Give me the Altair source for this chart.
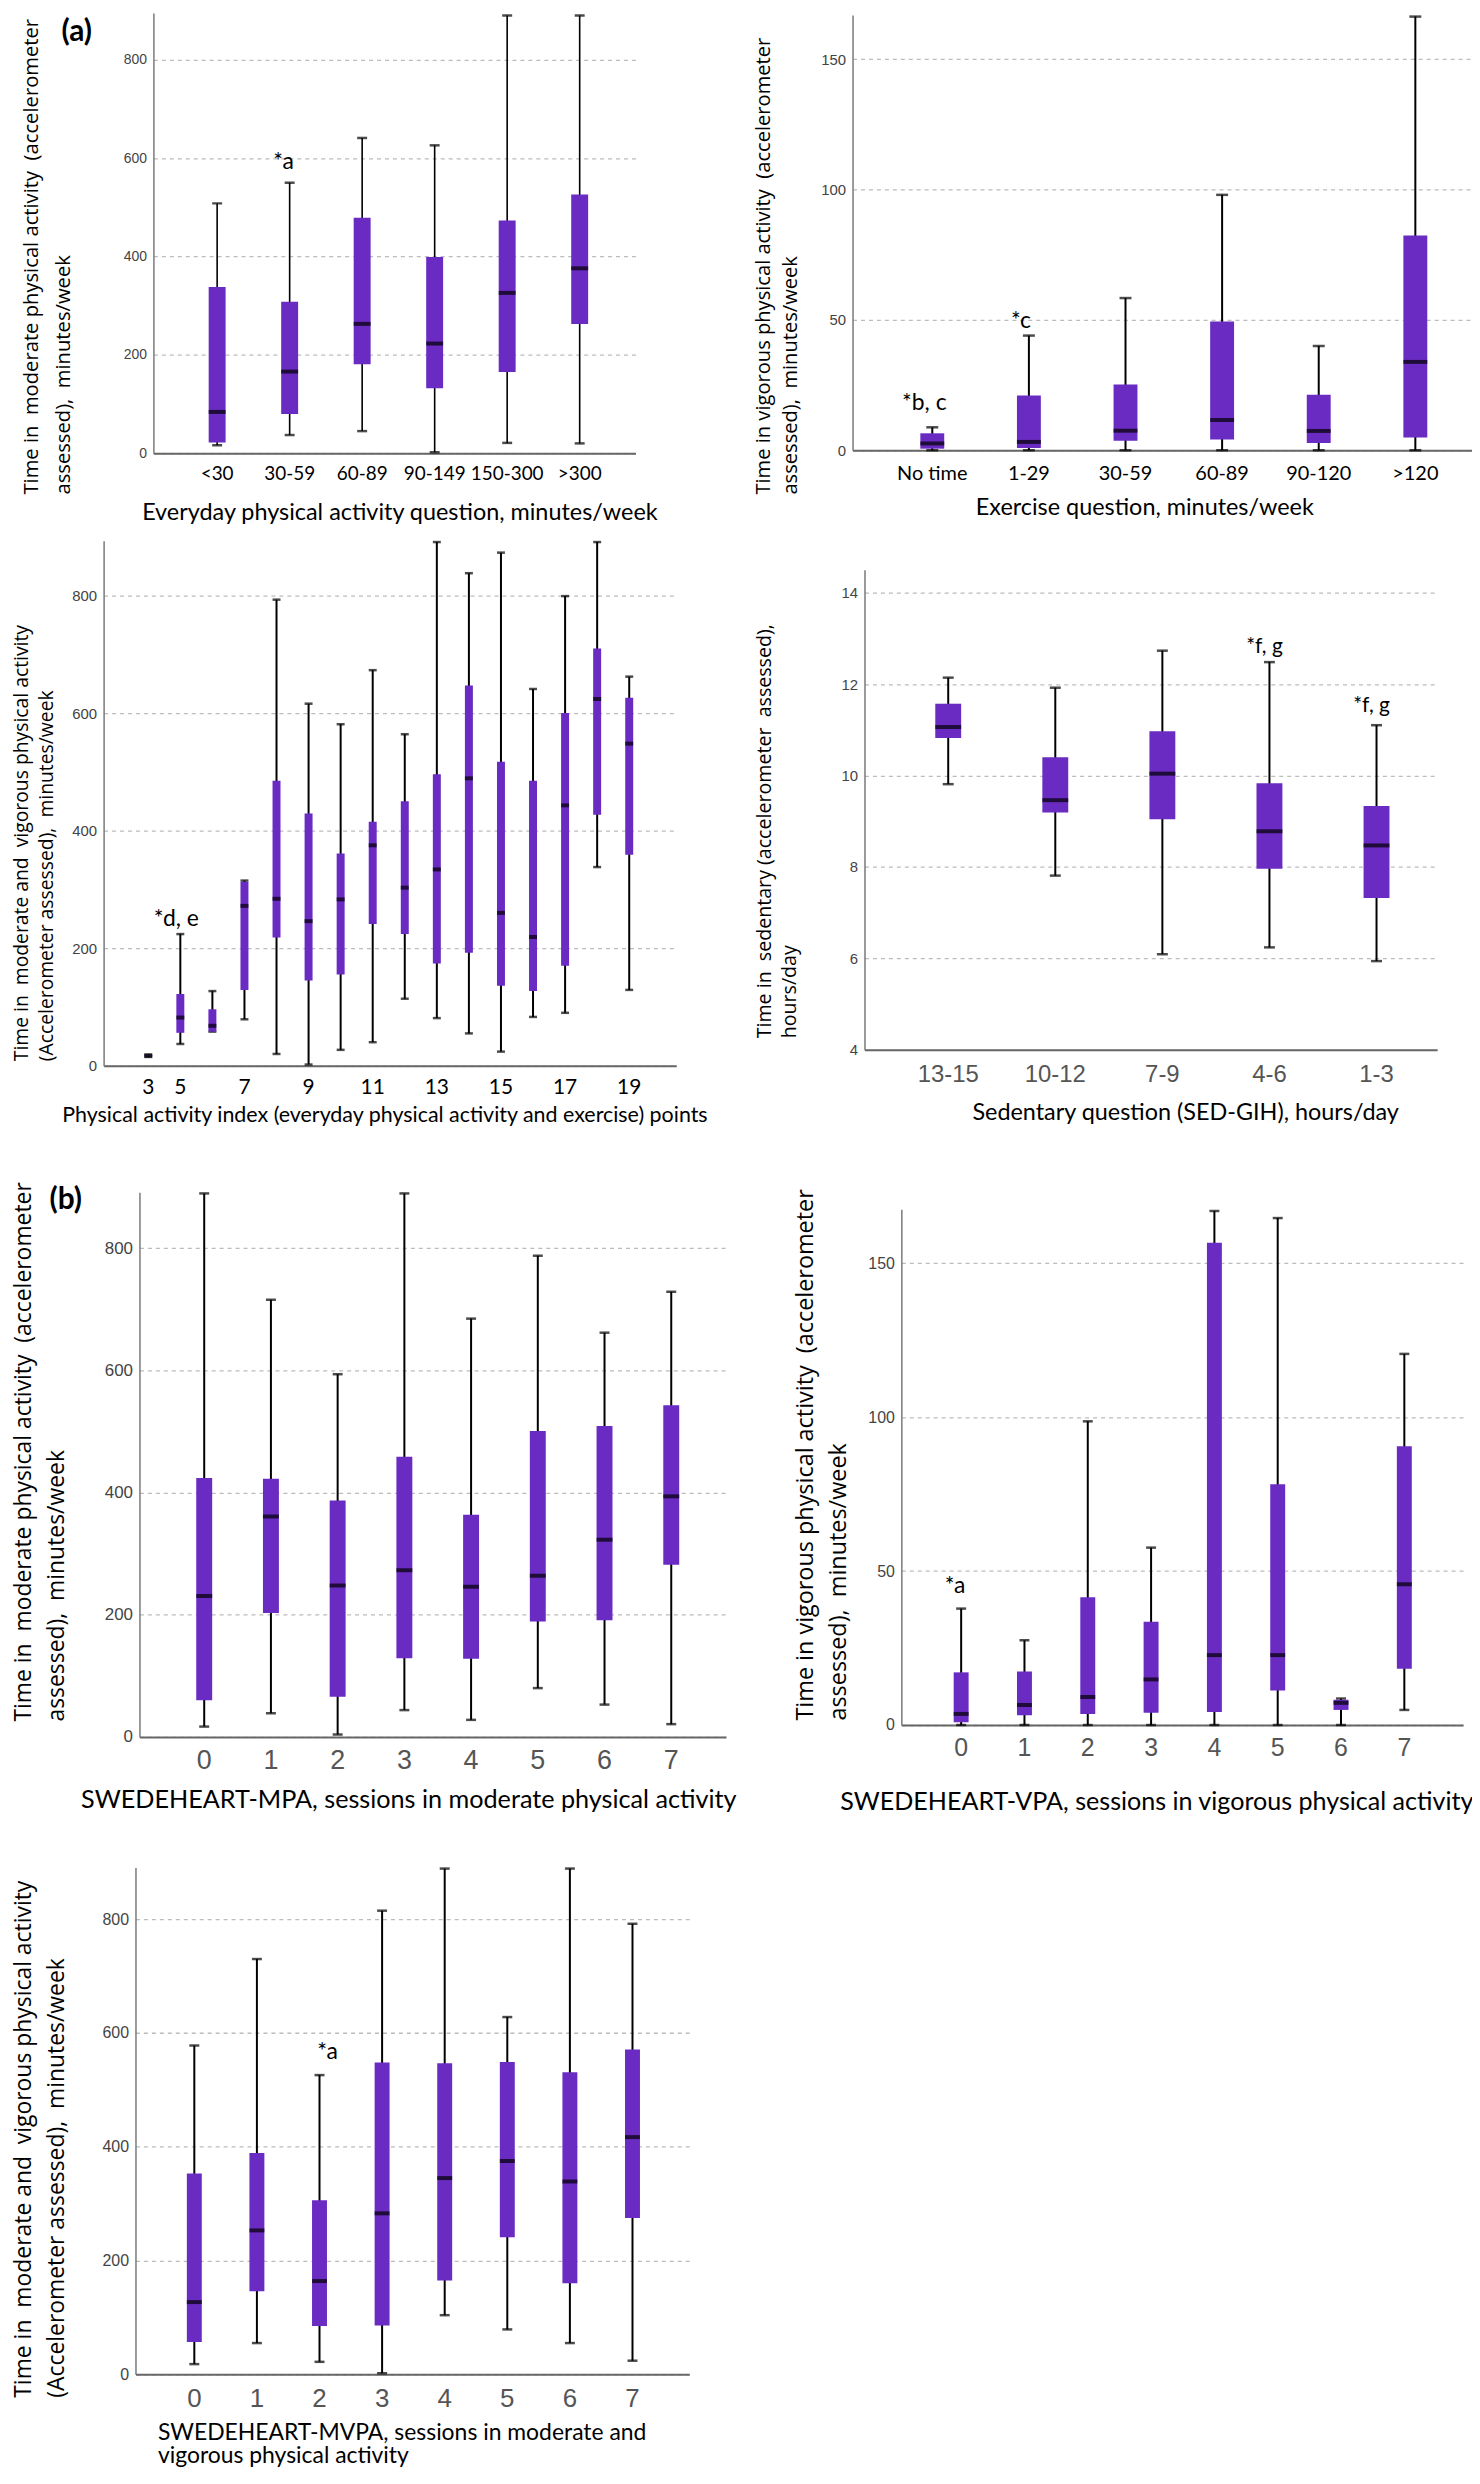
import altair as alt
import pandas as pd

PURPLE = "#6a2bc3"
SP = "\u00a0 "  # visible double space

# ---------------- (a) top-left: everyday physical activity vs MPA
cats1 = ["<30", "30-59", "60-89", "90-149", "150-300", ">300"]
lo1 = [16, 37, 45, 2, 21, 20]
q1_1 = [22, 80, 181, 132, 165, 263]
med1 = [84, 166, 263, 223, 326, 376]
q3_1 = [338, 308, 479, 399, 473, 526]
hi1 = [508, 550, 641, 626, 890, 890]
ann1_cat = ["30-59"]
ann1_val = [592]
ann1_txt = ["*a"]

# ---------------- top-right: exercise question vs VPA
cats2 = ["No time", "1-29", "30-59", "60-89", "90-120", ">120"]
lo2 = [0, 0, 0, 0, 0, 0]
q1_2 = [0.6, 0.9, 3.6, 4.1, 2.8, 4.9]
med2 = [2.6, 3.2, 7.5, 11.6, 7.4, 33.9]
q3_2 = [6.5, 21, 25.2, 49.4, 21.3, 82.4]
hi2 = [8.8, 44, 58.4, 98, 40, 166.4]
ann2_cat = ["No time", "1-29"]
ann2_val = [18, 49.5]
ann2_txt = ["*b, c", "*c"]

# ---------------- middle-left: physical activity index vs MVPA
cats3 = ["3", "5", "6", "7", "8", "9", "10", "11", "12", "13", "14", "15", "16", "17", "18", "19"]
lo3 = [15, 37, 58, 79, 20, 2, 27, 40, 114, 81, 55, 24, 83, 90, 338, 129]
q1_3 = [16, 56, 58, 129, 218, 145, 155, 241, 224, 174, 192, 136, 127, 170, 427, 359]
med3 = [17, 82, 68, 272, 284, 246, 283, 375, 303, 334, 489, 260, 219, 443, 624, 548]
q3_3 = [18, 122, 96, 313, 485, 429, 361, 415, 450, 496, 647, 517, 485, 600, 710, 626]
hi3 = [19, 224, 127, 315, 793, 616, 581, 673, 564, 891, 838, 873, 641, 799, 891, 662]
labels3 = ["3", "5", "7", "9", "11", "13", "15", "17", "19"]
ann3_cat = ["5"]
ann3_val = [250]
ann3_txt = ["*d, e"]

# ---------------- middle-right: sedentary question vs sedentary time
cats4 = ["13-15", "10-12", "7-9", "4-6", "1-3"]
lo4 = [9.81, 7.81, 6.09, 6.24, 5.94]
q1_4 = [10.82, 9.19, 9.04, 7.96, 7.32]
med4 = [11.06, 9.46, 10.04, 8.78, 8.47]
q3_4 = [11.57, 10.40, 10.97, 9.83, 9.33]
hi4 = [12.14, 11.92, 12.73, 12.48, 11.10]
ann4_cat = ["4-6", "1-3"]
ann4_val = [12.8, 11.52]
ann4_txt = ["*f, g", "*f, g"]

# ---------------- (b) SWEDEHEART-MPA
cats5 = ["0", "1", "2", "3", "4", "5", "6", "7"]
lo5 = [17, 39, 4, 44, 28, 80, 53, 21]
q1_5 = [60, 203, 66, 129, 128, 189, 191, 282]
med5 = [231, 361, 248, 273, 246, 264, 323, 394]
q3_5 = [424, 423, 387, 459, 364, 501, 509, 543]
hi5 = [890, 716, 594, 890, 685, 788, 662, 729]

# ---------------- SWEDEHEART-VPA
cats6 = ["0", "1", "2", "3", "4", "5", "6", "7"]
lo6 = [0, 0, 0, 0, 0, 0, 0, 4.9]
q1_6 = [0.9, 3.2, 3.6, 4.0, 4.2, 11.2, 4.9, 18.3]
med6 = [3.6, 6.5, 9.1, 14.8, 22.7, 22.7, 7.2, 45.7]
q3_6 = [17.1, 17.4, 41.5, 33.5, 156.6, 78.2, 8.2, 90.5]
hi6 = [37.8, 27.5, 98.6, 57.6, 166.9, 164.6, 8.6, 120.5]
ann6_cat = ["0"]
ann6_val = [45]
ann6_txt = ["*a"]

# ---------------- SWEDEHEART-MVPA
cats7 = ["0", "1", "2", "3", "4", "5", "6", "7"]
lo7 = [18, 55, 22, 2, 104, 79, 55, 24]
q1_7 = [57, 146, 85, 86, 165, 241, 160, 275]
med7 = [127, 253, 164, 283, 345, 375, 339, 417]
q3_7 = [353, 389, 306, 548, 547, 549, 531, 571]
hi7 = [578, 730, 526, 815, 889, 628, 889, 792]
ann7_cat = ["2"]
ann7_val = [567]
ann7_txt = ["*a"]

BLACK_FONT = "Lato"
GRAY_FONT = "Liberation Sans"
YT_FONT = "Open Sans"


def spacer(w, h):
    return alt.Chart(pd.DataFrame({"s": [0]})).mark_point(opacity=0, size=0).encode(
        x=alt.value(0), y=alt.value(0)
    ).properties(width=w, height=h)


def panel(cats, lo, q1, med, q3, hi, *, w, h, ydom, yticks, po, align,
          box, cap, med_th=4, whisk=2,
          xlab_font, xlab_size, xlab_color, xlab_pad, xlab_values=None,
          ylab_size, ylab_color="#444",
          ytitle, yt_size, yt_lh, yt_x, yt_y,
          xtitle, xt_size, xt_x, xt_y, xt_align="center", xt_baseline="middle", xt_lh=None,
          ann=None, ann_dx=0, ann_dy=0, ann_size=23, label=None):
    df = pd.DataFrame({"cat": cats, "lo": lo, "q1": q1, "med": med, "q3": q3, "hi": hi})
    xscale = alt.Scale(type="band", domain=list(cats), paddingInner=0,
                       paddingOuter=po, align=align)
    xaxis_kw = dict(
        labelAngle=0, ticks=False, grid=False, domainColor="#666", domainWidth=2,
        labelFont=xlab_font, labelFontSize=xlab_size, labelColor=xlab_color,
        labelPadding=xlab_pad, labelOverlap=False,
        title=xtitle, titleFont=BLACK_FONT, titleFontSize=xt_size,
        titleFontWeight="normal", titleColor="black",
        titleX=xt_x, titleY=xt_y, titleAlign=xt_align, titleBaseline=xt_baseline,
    )
    if xt_lh is not None:
        xaxis_kw["titleLineHeight"] = xt_lh
    if xlab_values is not None:
        xaxis_kw["values"] = xlab_values
    xaxis = alt.Axis(**xaxis_kw)
    yscale = alt.Scale(domain=ydom, nice=False, zero=False)
    yaxis = alt.Axis(
        values=yticks, grid=True, gridDash=[4, 4], gridColor="#bcbcbc", gridWidth=1.3,
        domainColor="#7a7a7a", domainWidth=1.5, ticks=False, labelPadding=7,
        labelFont=GRAY_FONT, labelFontSize=ylab_size, labelColor=ylab_color,
        title=ytitle, titleFont=YT_FONT, titleFontSize=yt_size, titleFontWeight="normal",
        titleColor="black", titleAngle=270, titleAlign="left", titleBaseline="top",
        titleX=yt_x, titleY=yt_y, titleLineHeight=yt_lh,
    )
    xc = alt.X("cat:N", scale=xscale, axis=xaxis, bandPosition=0.5)
    xb = alt.X("cat:N", scale=xscale, axis=xaxis)
    base = alt.Chart(df)
    whisker = base.mark_rule(color="black", strokeWidth=whisk).encode(
        x=xc, y=alt.Y("lo:Q", scale=yscale, axis=yaxis), y2="hi:Q")
    cap_hi = base.mark_tick(color="black", size=cap, thickness=2.5).encode(
        x=xc, y=alt.Y("hi:Q", scale=yscale, axis=yaxis))
    cap_lo = base.mark_tick(color="black", size=cap, thickness=2.5).encode(
        x=xc, y=alt.Y("lo:Q", scale=yscale, axis=yaxis))
    boxes = base.mark_bar(color=PURPLE, size=box).encode(
        x=xb, y=alt.Y("q1:Q", scale=yscale, axis=yaxis), y2="q3:Q")
    medians = base.mark_tick(color="black", size=box, thickness=med_th).encode(
        x=xc, y=alt.Y("med:Q", scale=yscale, axis=yaxis))
    layers = [whisker, cap_hi, cap_lo, boxes, medians]
    if ann is not None:
        adf = pd.DataFrame({"cat": ann[0], "val": ann[1], "txt": ann[2]})
        layers.append(alt.Chart(adf).mark_text(
            font=BLACK_FONT, fontSize=ann_size, color="black", baseline="middle",
            dx=ann_dx, dy=ann_dy).encode(
            x=xc, y=alt.Y("val:Q", scale=yscale, axis=yaxis), text="txt:N"))
    if label is not None:
        ldf = pd.DataFrame({"t": [label[0]]})
        layers.append(alt.Chart(ldf).mark_text(
            font=BLACK_FONT, fontSize=30, fontWeight="bold", color="black",
            baseline="middle", align="center").encode(
            x=alt.value(label[1]), y=alt.value(label[2]), text="t:N"))
    return alt.layer(*layers).properties(width=w, height=h)


p1 = panel(cats1, lo1, q1_1, med1, q3_1, hi1, w=484, h=442, ydom=[0, 895],
           yticks=[0, 200, 400, 600, 800], po=0.324, align=0.585, box=17, cap=10, whisk=1.6,
           xlab_font=BLACK_FONT, xlab_size=19, xlab_color="black", xlab_pad=11,
           ylab_size=14,
           ytitle=["Time in" + SP + "moderate physical activity" + SP + "(accelerometer",
                   "assessed)," + SP + " minutes/week"],
           yt_size=20.3, yt_lh=32, yt_x=-132, yt_y=483,
           xtitle="Everyday physical activity question, minutes/week", xt_size=23.5, xt_x=247, xt_y=60,
           ann=(ann1_cat, ann1_val, ann1_txt), ann_dx=-6, label=("(a)", -77, 19))

p2 = panel(cats2, lo2, q1_2, med2, q3_2, hi2, w=622, h=437, ydom=[0, 167],
           yticks=[0, 50, 100, 150], po=0.206, align=0.79, box=24, cap=12,
           xlab_font=BLACK_FONT, xlab_size=20, xlab_color="black", xlab_pad=13,
           ylab_size=15,
           ytitle=["Time in vigorous physical activity" + SP + "(accelerometer",
                   "assessed)," + SP + " minutes/week"],
           yt_size=20.2, yt_lh=27, yt_x=-99, yt_y=481,
           xtitle="Exercise question, minutes/week", xt_size=23.5, xt_x=293, xt_y=58,
           ann=(ann2_cat, ann2_val, ann2_txt), ann_dx=-8)

p3 = panel(cats3, lo3, q1_3, med3, q3_3, hi3, w=575, h=527, ydom=[0, 893],
           yticks=[0, 200, 400, 600, 800], po=0.93, align=0.48, box=8, cap=8,
           xlab_font=BLACK_FONT, xlab_size=21, xlab_color="black", xlab_pad=11,
           xlab_values=labels3, ylab_size=15,
           ytitle=["Time in" + SP + "moderate and" + SP + "vigorous physical activity",
                   "(Accelerometer assessed)," + SP + "minutes/week"],
           yt_size=19.4, yt_lh=25, yt_x=-91, yt_y=522,
           xtitle="Physical activity index (everyday physical activity and exercise) points",
           xt_size=21.5, xt_x=282, xt_y=50,
           ann=(ann3_cat, ann3_val, ann3_txt), ann_dx=-4)

p4 = panel(cats4, lo4, q1_4, med4, q3_4, hi4, w=575, h=482, ydom=[4, 14.5],
           yticks=[4, 6, 8, 10, 12, 14], po=0.174, align=0.81, box=26, cap=11,
           xlab_font=GRAY_FONT, xlab_size=24, xlab_color="#555", xlab_pad=13,
           ylab_size=15,
           ytitle=["Time in" + SP + "sedentary (accelerometer" + SP + "assessed),", "hours/day"],
           yt_size=19.7, yt_lh=25, yt_x=-110, yt_y=470,
           xtitle="Sedentary question (SED-GIH), hours/day", xt_size=23.5, xt_x=322, xt_y=63,
           ann=(ann4_cat, ann4_val, ann4_txt), ann_dx=-5, ann_size=21)

p5 = panel(cats5, lo5, q1_5, med5, q3_5, hi5, w=589, h=547, ydom=[0, 892],
           yticks=[0, 200, 400, 600, 800], po=0.396, align=0.594, box=16, cap=10,
           xlab_font=GRAY_FONT, xlab_size=27, xlab_color="#555", xlab_pad=11,
           ylab_size=17,
           ytitle=["Time in" + SP + "moderate physical activity" + SP + "(accelerometer",
                   "assessed)," + SP + " minutes/week"],
           yt_size=23, yt_lh=33, yt_x=-127, yt_y=531,
           xtitle="SWEDEHEART-MPA, sessions in moderate physical activity", xt_size=25.3,
           xt_x=270, xt_y=63, label=("(b)", -74, 8))

p6 = panel(cats6, lo6, q1_6, med6, q3_6, hi6, w=564, h=518, ydom=[0, 167.5],
           yticks=[0, 50, 100, 150], po=0.436, align=0.51, box=15, cap=10,
           xlab_font=GRAY_FONT, xlab_size=25, xlab_color="#555", xlab_pad=11,
           ylab_size=16,
           ytitle=["Time in vigorous physical activity" + SP + "(accelerometer",
                   "assessed)," + SP + " minutes/week"],
           yt_size=23.5, yt_lh=33, yt_x=-108, yt_y=513,
           xtitle="SWEDEHEART-VPA, sessions in vigorous physical activity", xt_size=25.2,
           xt_x=256, xt_y=77,
           ann=(ann6_cat, ann6_val, ann6_txt), ann_dx=-6)

p7 = panel(cats7, lo7, q1_7, med7, q3_7, hi7, w=556, h=509, ydom=[0, 891],
           yticks=[0, 200, 400, 600, 800], po=0.423, align=0.52, box=15, cap=10,
           xlab_font=GRAY_FONT, xlab_size=26, xlab_color="#555", xlab_pad=11,
           ylab_size=16,
           ytitle=["Time in" + SP + "moderate and" + SP + "vigorous physical activity",
                   "(Accelerometer assessed)," + SP + "minutes/week"],
           yt_size=23, yt_lh=33, yt_x=-123, yt_y=532,
           xtitle=["SWEDEHEART-MVPA, sessions in moderate and", "\u00a0vigorous physical activity"],
           xt_size=23, xt_x=22, xt_y=47, xt_align="left", xt_baseline="top", xt_lh=24,
           ann=(ann7_cat, ann7_val, ann7_txt), ann_dx=8)


def shift_down(ch, dy):
    # nested group: placed below a spacer of height dy
    return alt.vconcat(spacer(1, dy), ch, spacing=0, bounds="flush")


# rows (nested groups count as zero size in a flush layout, so rows are placed by spacers)
row1 = alt.hconcat(spacer(146, 1), p1, spacer(218, 1), shift_down(p2, 2),
                   spacing=0, bounds="flush")
row2 = alt.hconcat(spacer(96, 1), p3, spacer(189, 1), shift_down(p4, 29),
                   spacing=0, bounds="flush")
row3 = alt.hconcat(spacer(132, 1), p5, spacer(176, 1), shift_down(p6, 17),
                   spacing=0, bounds="flush")
row4 = alt.hconcat(spacer(128, 1), p7, spacing=0, bounds="flush")

chart = alt.vconcat(
    row1, spacer(1, 530), row2, spacer(1, 654), row3, spacer(1, 678), row4,
    spacing=0, bounds="flush"
).properties(
    autosize=alt.AutoSizeParams(type="none"),
    padding={"left": 0, "top": 0, "right": 1470, "bottom": 2467}
).configure_view(stroke=None)

chart.save("out.html", embed_options={"renderer": "svg", "actions": False})
